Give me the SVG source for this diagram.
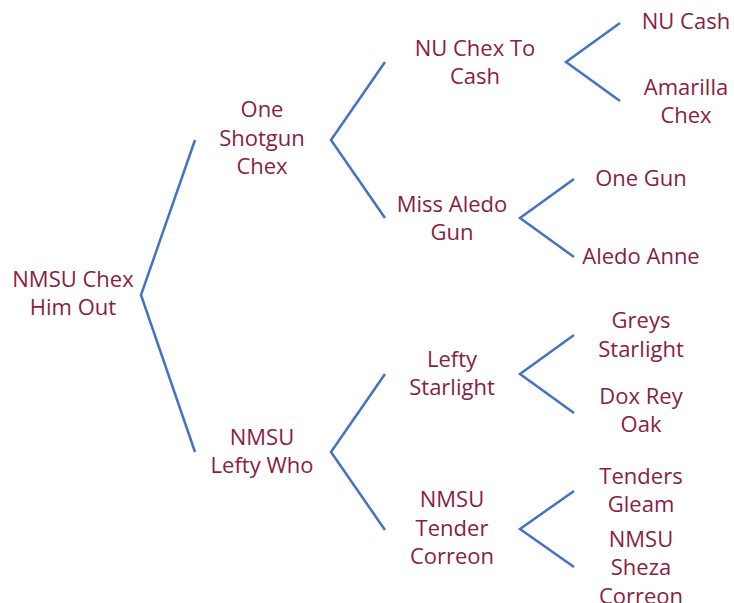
<svg xmlns="http://www.w3.org/2000/svg" width="734" height="603" viewBox="0 0 734 603">
<style>
text{font-family:"Open Sans","Liberation Sans",sans-serif;font-size:22px;fill:#8A1D43;text-anchor:middle}
.c polyline{fill:none;stroke:#4472C4;stroke-width:2.5;stroke-linejoin:miter}
</style>
<rect width="734" height="603" fill="#fff"/>
<g class="c" id="connectors">
<polyline points="195,140 141,295 195,452"/>
<polyline points="385,62 331,140 385,218"/>
<polyline points="385,374 331,452 385,530"/>
<polyline points="620,23 566,62 620,101"/>
<polyline points="574,179 520,218 574,257"/>
<polyline points="574,335 520,374 574,413"/>
<polyline points="574,491 520,529 574,567"/>
</g>
<g id="n1"><text x="73" y="287">NMSU Chex</text><text x="73" y="315">Him Out</text></g>
<g id="n2"><text x="262" y="117">One</text><text x="262" y="146">Shotgun</text><text x="262" y="174">Chex</text></g>
<g id="n3"><text x="262" y="445">NMSU</text><text x="262" y="473">Lefty Who</text></g>
<g id="n4"><text x="475" y="56">NU Chex To</text><text x="475" y="84">Cash</text></g>
<g id="n5"><text x="452" y="212">Miss Aledo</text><text x="452" y="240">Gun</text></g>
<g id="n6"><text x="452" y="367">Lefty</text><text x="452" y="395">Starlight</text></g>
<g id="n7"><text x="452" y="507">NMSU</text><text x="452" y="536">Tender</text><text x="452" y="564">Correon</text></g>
<g id="n8"><text x="686" y="29">NU Cash</text></g>
<g id="n9"><text x="686" y="95">Amarilla</text><text x="686" y="123">Chex</text></g>
<g id="n10"><text x="641" y="186">One Gun</text></g>
<g id="n11"><text x="641" y="264">Aledo Anne</text></g>
<g id="n12"><text x="641" y="328">Greys</text><text x="641" y="357">Starlight</text></g>
<g id="n13"><text x="641" y="404">Dox Rey</text><text x="641" y="432">Oak</text></g>
<g id="n14"><text x="641" y="484">Tenders</text><text x="641" y="512">Gleam</text></g>
<g id="n15"><text x="641" y="547">NMSU</text><text x="641" y="575">Sheza</text><text x="641" y="604">Correon</text></g>
</svg>
